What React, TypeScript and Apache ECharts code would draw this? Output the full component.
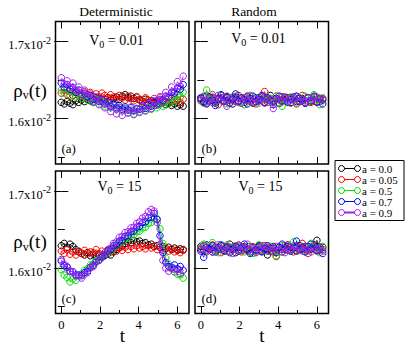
import React, { useEffect, useRef } from "react";
import * as echarts from "echarts";

// time values (shared by all panels)
const tValues = [
  0, 0.15, 0.3, 0.45, 0.6, 0.75, 0.9, 1.05, 1.2, 1.35, 1.5, 1.65, 1.8, 1.95, 2.1, 2.25, 2.4, 2.55, 2.7, 2.85,
  3.0, 3.15, 3.3, 3.45, 3.6, 3.75, 3.9, 4.05, 4.2, 4.35, 4.5, 4.65, 4.8, 4.95, 5.1, 5.25, 5.4, 5.55, 5.7, 5.85,
  6.0, 6.15, 6.3,
];

const seriesNames = ["a = 0.0", "a = 0.05", "a = 0.5", "a = 0.7", "a = 0.9"];
const seriesColors = ["#000000", "#ff0000", "#00e000", "#0000ff", "#a020f0"];

// rho_v(t) values in units of 10^-2
// (a) Deterministic, V0 = 0.01
const detLowA00 = [1.621,1.619,1.622,1.620,1.618,1.623,1.621,1.624,1.622,1.625,1.623,1.621,1.624,1.626,1.623,1.625,1.627,1.624,1.626,1.628,1.625,1.629,1.631,1.627,1.629,1.626,1.628,1.624,1.622,1.625,1.621,1.623,1.620,1.622,1.619,1.621,1.618,1.620,1.617,1.619,1.616,1.618,1.616];
const detLowA005 = [1.633,1.637,1.631,1.635,1.630,1.636,1.632,1.629,1.635,1.631,1.634,1.629,1.632,1.628,1.633,1.630,1.627,1.631,1.628,1.625,1.630,1.627,1.624,1.629,1.626,1.623,1.628,1.625,1.622,1.627,1.624,1.621,1.626,1.623,1.628,1.624,1.621,1.627,1.623,1.628,1.624,1.621,1.625];
const detLowA05 = [1.637,1.633,1.639,1.630,1.634,1.628,1.632,1.626,1.629,1.624,1.627,1.621,1.625,1.619,1.622,1.616,1.620,1.614,1.617,1.612,1.615,1.610,1.613,1.608,1.611,1.606,1.612,1.609,1.613,1.610,1.615,1.612,1.617,1.614,1.619,1.616,1.622,1.619,1.626,1.623,1.630,1.628,1.634];
const detLowA07 = [1.646,1.641,1.644,1.638,1.640,1.634,1.637,1.631,1.633,1.628,1.630,1.625,1.627,1.622,1.625,1.619,1.621,1.616,1.619,1.614,1.617,1.612,1.615,1.611,1.614,1.610,1.613,1.612,1.616,1.613,1.618,1.616,1.621,1.619,1.625,1.623,1.629,1.628,1.634,1.633,1.639,1.638,1.644];
const detLowA09 = [1.653,1.645,1.649,1.640,1.646,1.636,1.641,1.631,1.637,1.627,1.632,1.622,1.628,1.618,1.624,1.614,1.621,1.609,1.617,1.606,1.614,1.604,1.612,1.607,1.615,1.605,1.613,1.608,1.616,1.610,1.619,1.613,1.623,1.617,1.628,1.622,1.634,1.628,1.641,1.635,1.648,1.642,1.655];

// (b) Random, V0 = 0.01
const rndLowA00 = [1.626,1.621,1.629,1.623,1.627,1.620,1.625,1.630,1.622,1.627,1.624,1.619,1.628,1.623,1.626,1.621,1.629,1.624,1.620,1.627,1.623,1.628,1.621,1.625,1.630,1.622,1.626,1.620,1.628,1.624,1.627,1.621,1.625,1.629,1.622,1.626,1.620,1.627,1.623,1.628,1.621,1.625,1.624];
const rndLowA005 = [1.623,1.628,1.620,1.626,1.631,1.622,1.618,1.627,1.624,1.629,1.621,1.626,1.623,1.630,1.620,1.625,1.628,1.622,1.626,1.619,1.627,1.624,1.635,1.621,1.626,1.623,1.629,1.620,1.625,1.628,1.622,1.627,1.624,1.619,1.626,1.630,1.623,1.627,1.621,1.625,1.628,1.622,1.626];
const rndLowA05 = [1.625,1.620,1.637,1.624,1.628,1.621,1.626,1.630,1.623,1.619,1.627,1.624,1.629,1.621,1.626,1.618,1.625,1.630,1.622,1.627,1.620,1.625,1.628,1.623,1.626,1.621,1.629,1.624,1.616,1.626,1.622,1.628,1.625,1.620,1.627,1.623,1.629,1.621,1.626,1.631,1.624,1.618,1.627];
const rndLowA07 = [1.627,1.622,1.619,1.628,1.624,1.617,1.626,1.631,1.623,1.628,1.620,1.625,1.632,1.622,1.627,1.624,1.619,1.626,1.629,1.622,1.625,1.630,1.621,1.627,1.624,1.618,1.626,1.629,1.623,1.627,1.621,1.625,1.628,1.622,1.626,1.624,1.620,1.627,1.623,1.629,1.622,1.626,1.619];
const rndLowA09 = [1.624,1.629,1.622,1.627,1.621,1.626,1.630,1.623,1.627,1.616,1.625,1.628,1.622,1.626,1.620,1.627,1.624,1.629,1.621,1.625,1.623,1.628,1.620,1.626,1.624,1.613,1.625,1.629,1.622,1.627,1.624,1.620,1.626,1.628,1.623,1.625,1.621,1.627,1.624,1.628,1.622,1.626,1.625];

// (c) Deterministic, V0 = 15
const detHighA00 = [1.629,1.632,1.627,1.631,1.628,1.624,1.621,1.619,1.617,1.620,1.616,1.618,1.615,1.617,1.614,1.616,1.618,1.617,1.621,1.624,1.627,1.629,1.632,1.634,1.633,1.636,1.634,1.635,1.632,1.633,1.630,1.631,1.628,1.629,1.627,1.628,1.625,1.627,1.624,1.626,1.623,1.625,1.624];
const detHighA005 = [1.622,1.619,1.624,1.618,1.621,1.617,1.622,1.619,1.623,1.618,1.621,1.620,1.624,1.619,1.622,1.620,1.623,1.621,1.625,1.622,1.626,1.623,1.627,1.624,1.628,1.625,1.629,1.626,1.628,1.625,1.629,1.626,1.628,1.624,1.627,1.623,1.626,1.622,1.625,1.621,1.624,1.620,1.623];
const detHighA05 = [1.598,1.591,1.588,1.582,1.586,1.584,1.590,1.592,1.597,1.599,1.604,1.605,1.610,1.611,1.615,1.616,1.621,1.622,1.627,1.629,1.634,1.634,1.639,1.639,1.643,1.643,1.647,1.648,1.652,1.653,1.658,1.659,1.664,1.664,1.651,1.632,1.613,1.605,1.599,1.598,1.592,1.591,1.587];
const detHighA07 = [1.609,1.603,1.601,1.596,1.595,1.591,1.591,1.590,1.594,1.596,1.601,1.603,1.608,1.610,1.615,1.617,1.622,1.624,1.629,1.630,1.635,1.636,1.641,1.642,1.647,1.648,1.653,1.654,1.659,1.660,1.665,1.666,1.671,1.663,1.642,1.620,1.607,1.602,1.601,1.604,1.599,1.602,1.597];
const detHighA09 = [1.611,1.605,1.602,1.596,1.595,1.590,1.590,1.587,1.592,1.594,1.600,1.602,1.608,1.610,1.616,1.618,1.624,1.626,1.632,1.634,1.640,1.641,1.646,1.647,1.652,1.653,1.658,1.660,1.665,1.667,1.673,1.676,1.674,1.659,1.631,1.610,1.600,1.596,1.600,1.595,1.598,1.593,1.597];

// (d) Random, V0 = 15
const rndHighA00 = [1.628,1.623,1.630,1.625,1.621,1.627,1.624,1.629,1.622,1.626,1.631,1.624,1.620,1.627,1.623,1.628,1.625,1.621,1.627,1.624,1.629,1.622,1.626,1.617,1.625,1.628,1.623,1.627,1.621,1.626,1.630,1.624,1.627,1.622,1.629,1.625,1.628,1.623,1.631,1.626,1.636,1.624,1.627];
const rndHighA005 = [1.624,1.629,1.621,1.626,1.630,1.623,1.627,1.620,1.625,1.628,1.622,1.627,1.624,1.630,1.621,1.626,1.623,1.628,1.625,1.620,1.627,1.624,1.629,1.622,1.626,1.621,1.615,1.627,1.624,1.629,1.623,1.626,1.621,1.628,1.625,1.632,1.624,1.619,1.626,1.628,1.622,1.627,1.624];
const rndHighA05 = [1.626,1.631,1.622,1.627,1.633,1.624,1.620,1.628,1.625,1.630,1.622,1.626,1.629,1.623,1.627,1.621,1.628,1.624,1.619,1.626,1.630,1.623,1.627,1.622,1.628,1.625,1.616,1.626,1.629,1.624,1.627,1.622,1.634,1.626,1.623,1.628,1.621,1.627,1.632,1.624,1.626,1.620,1.628];
const rndHighA07 = [1.622,1.614,1.627,1.624,1.629,1.621,1.626,1.630,1.623,1.627,1.620,1.625,1.628,1.622,1.626,1.631,1.624,1.619,1.627,1.623,1.628,1.621,1.625,1.629,1.622,1.626,1.620,1.627,1.631,1.624,1.628,1.622,1.626,1.635,1.624,1.627,1.621,1.628,1.625,1.630,1.623,1.627,1.619];
const rndHighA09 = [1.625,1.629,1.623,1.627,1.621,1.626,1.630,1.624,1.628,1.622,1.627,1.619,1.625,1.629,1.623,1.626,1.631,1.624,1.627,1.621,1.626,1.629,1.623,1.627,1.622,1.625,1.628,1.624,1.626,1.620,1.627,1.624,1.629,1.623,1.626,1.622,1.628,1.625,1.621,1.627,1.624,1.626,1.622];

const panelData = [
  [detLowA00, detLowA005, detLowA05, detLowA07, detLowA09],
  [rndLowA00, rndLowA005, rndLowA05, rndLowA07, rndLowA09],
  [detHighA00, detHighA005, detHighA05, detHighA07, detHighA09],
  [rndHighA00, rndHighA005, rndHighA05, rndHighA07, rndHighA09],
];
const panelLetters = ["(a)", "(b)", "(c)", "(d)"];
const panelV0 = ["0.01", "0.01", "15", "15"];
const columnTitles = ["Deterministic", "Random"];

// axis ticks
const xMajorTicks = [0, 2, 4, 6];
const xMinorTicks = [1, 3, 5];
const yMajorTicks = [1.6, 1.7];
const yMinorTicks = [1.55, 1.65];
const xRange = [-0.3, 6.6];
const yRange = [1.541, 1.726];

const FONT = "Liberation Serif, Times New Roman, serif";

const gridBoxes = [
  { left: 55.5, top: 21.5, width: 133.5, height: 142.5 },
  { left: 195, top: 21.5, width: 133.5, height: 142.5 },
  { left: 55.5, top: 171, width: 133.5, height: 142.5 },
  { left: 195, top: 171, width: 133.5, height: 142.5 },
];

function buildXAxes(g: number, showLabels: boolean) {
  const base = {
    gridIndex: g,
    type: "value" as const,
    min: xRange[0],
    max: xRange[1],
    axisLine: { show: false },
    splitLine: { show: false },
  };
  const mk = (position: string, ticks: number[], len: number, labels: boolean) => ({
    ...base,
    position,
    axisTick: { show: true, inside: true, length: len, customValues: ticks, lineStyle: { color: "#000", width: 1 } },
    axisLabel: labels
      ? { show: true, customValues: ticks, color: "#000", fontFamily: FONT, fontSize: 12.5, margin: 5 }
      : { show: false },
  });
  return [
    mk("bottom", xMajorTicks, 7, showLabels),
    mk("bottom", xMinorTicks, 3.5, false),
    mk("top", xMajorTicks, 7, false),
    mk("top", xMinorTicks, 3.5, false),
  ];
}

function buildYAxes(g: number, showLabels: boolean) {
  const base = {
    gridIndex: g,
    type: "value" as const,
    min: yRange[0],
    max: yRange[1],
    axisLine: { show: false },
    splitLine: { show: false },
  };
  const mk = (position: string, ticks: number[], len: number, labels: boolean) => ({
    ...base,
    position,
    axisTick: { show: true, inside: true, length: len, customValues: ticks, lineStyle: { color: "#000", width: 1 } },
    axisLabel: labels
      ? {
          show: true,
          customValues: ticks,
          margin: 4.5,
          formatter: (v: number) => `{m|${v.toFixed(1)}x10}{s|-2}`,
          rich: {
            m: { fontFamily: FONT, fontSize: 12.5, color: "#000", padding: [7, 0, 0, 0] },
            s: { fontFamily: FONT, fontSize: 10, color: "#000", padding: [0, 0, 3, 0] },
          },
        }
      : { show: false },
  });
  return [
    mk("left", yMajorTicks, 7, showLabels),
    mk("left", yMinorTicks, 3.5, false),
    mk("right", yMajorTicks, 7, false),
    mk("right", yMinorTicks, 3.5, false),
  ];
}

const App: React.FC = () => {
  const ref = useRef<HTMLDivElement>(null);

  useEffect(() => {
    if (!ref.current) return;
    const chart = echarts.init(ref.current, undefined, { renderer: "svg" });

    const grid = gridBoxes.map((b) => ({
      ...b,
      show: true,
      borderColor: "#000",
      borderWidth: 1.5,
      backgroundColor: "transparent",
      containLabel: false,
    }));

    const xAxis: any[] = [];
    const yAxis: any[] = [];
    for (let g = 0; g < 4; g++) {
      xAxis.push(...buildXAxes(g, g >= 2));
      yAxis.push(...buildYAxes(g, g % 2 === 0));
    }

    const series: any[] = [];
    panelData.forEach((panel, g) => {
      panel.forEach((vals, k) => {
        series.push({
          type: "line",
          name: seriesNames[k],
          xAxisIndex: g * 4,
          yAxisIndex: g * 4,
          data: tValues.map((t, i) => [t, vals[i]]),
          symbol: "circle",
          symbolSize: 6.5,
          showSymbol: true,
          showAllSymbol: true,
          itemStyle: { color: "rgba(0,0,0,0)", borderColor: seriesColors[k], borderWidth: 1 },
          lineStyle: { color: seriesColors[k], width: 0.8 },
          emphasis: { disabled: true },
          silent: true,
          z: 2 + k,
        });
      });
    });

    const txt = (extra: any) => ({ fontFamily: FONT, fill: "#000", ...extra });

    const graphic: any[] = [];
    // column titles
    graphic.push({
      type: "text",
      x: 116,
      y: 11,
      style: txt({ text: columnTitles[0], fontSize: 13.5, align: "center", verticalAlign: "middle" }),
    });
    graphic.push({
      type: "text",
      x: 254,
      y: 11,
      style: txt({ text: columnTitles[1], fontSize: 13.5, align: "center", verticalAlign: "middle" }),
    });
    // y-axis names
    [90, 241.5].forEach((yy) => {
      graphic.push({
        type: "text",
        x: 30,
        y: yy,
        style: txt({
          text: "{r|ρ}{v|v}{r|(t)}",
          fontSize: 19,
          align: "center",
          verticalAlign: "middle",
          rich: {
            r: { fontFamily: FONT, fontSize: 19, fill: "#000" },
            v: { fontFamily: FONT, fontSize: 12, fill: "#000", padding: [10, 0, 0, 0] },
          },
        }),
      });
    });
    // x-axis names
    [122.5, 262].forEach((xx) => {
      graphic.push({
        type: "text",
        x: xx,
        y: 335,
        style: txt({ text: "t", fontSize: 19, align: "center", verticalAlign: "middle" }),
      });
    });
    // V0 labels & panel letters
    const v0Pos = [
      [116.5, 40],
      [258.5, 38],
      [119.5, 186],
      [260.5, 186],
    ];
    const letterPos = [
      [61.5, 148.5],
      [201.5, 148.5],
      [61.5, 298],
      [201.5, 298],
    ];
    for (let g = 0; g < 4; g++) {
      graphic.push({
        type: "text",
        x: v0Pos[g][0],
        y: v0Pos[g][1],
        z: 100,
        style: txt({
          text: `{m|V}{s|0}{m| = ${panelV0[g]}}`,
          fontSize: 14,
          align: "center",
          verticalAlign: "middle",
          rich: {
            m: { fontFamily: FONT, fontSize: 14, fill: "#000" },
            s: { fontFamily: FONT, fontSize: 10, fill: "#000", padding: [8, 0, 0, 0] },
          },
        }),
      });
      graphic.push({
        type: "text",
        x: letterPos[g][0],
        y: letterPos[g][1],
        z: 100,
        style: txt({ text: panelLetters[g], fontSize: 13, align: "left", verticalAlign: "middle" }),
      });
    }
    // legend box
    const legendChildren: any[] = [
      {
        type: "rect",
        shape: { x: 335, y: 160.5, width: 69, height: 60 },
        style: { fill: "#fff", stroke: "#000", lineWidth: 1 },
      },
    ];
    seriesNames.forEach((name, i) => {
      const yy = 168.5 + i * 11;
      legendChildren.push({
        type: "line",
        shape: { x1: 341.5, y1: yy, x2: 357.5, y2: yy },
        style: { stroke: seriesColors[i], lineWidth: i === 4 ? 2 : 1 },
      });
      [341.5, 357.5].forEach((cx) => {
        legendChildren.push({
          type: "circle",
          shape: { cx, cy: yy, r: 3 },
          style: { fill: "#fff", stroke: seriesColors[i], lineWidth: 1 },
        });
      });
      legendChildren.push({
        type: "text",
        x: 362,
        y: yy,
        style: txt({ text: name, fontSize: 11, align: "left", verticalAlign: "middle" }),
      });
    });
    graphic.push({ type: "group", z: 100, children: legendChildren });

    chart.setOption({
      animation: false,
      backgroundColor: "#fff",
      textStyle: { fontFamily: FONT },
      grid,
      xAxis,
      yAxis,
      series,
      graphic,
    });

    return () => {
      chart.dispose();
    };
  }, []);

  return (
    <div
      ref={ref}
      style={{ position: "fixed", left: 0, top: 0, width: 415, height: 347, background: "#fff" }}
    />
  );
};

export default App;
